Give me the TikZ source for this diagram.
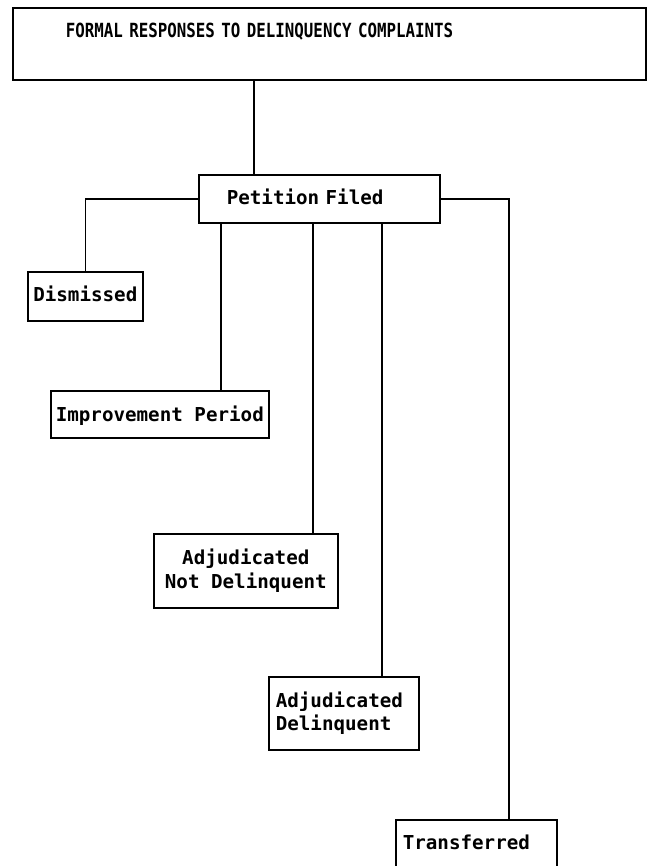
\documentclass[tikz,border=0pt]{standalone}
\usepackage{fontspec}
\newfontfamily\boxfont[WordSpace={1,0,0}]{DejaVu Sans Mono}
\newfontfamily\headfont[FakeStretch=0.81, WordSpace={1,0,0}]{DejaVu Sans Mono}

\tikzset{
  stage/.style={draw=black, line width=1.6pt, inner ysep=0pt, inner xsep=4pt,
    font=\boxfont\bfseries\fontsize{19.2}{23.5}\selectfont},
  link/.style={line width=1.5pt, black},
}

\begin{document}
\begin{tikzpicture}[x=1pt, y=-1pt]
  \useasboundingbox (0,0) rectangle (647,866);

  \node[stage, anchor=north west, text width=527pt, inner xsep=53pt,
        text height=30pt, text depth=42pt, align=left,
        font=\headfont\bfseries\fontsize{19.5}{23}\selectfont]
        (title) at (12,7) {FORMAL RESPONSES TO DELINQUENCY COMPLAINTS};
  \node[stage, anchor=north west, text width=185pt, inner xsep=28pt,
        text height=30pt, text depth=18pt, align=left]
        (petition) at (198,174) {Petition Filed};
  \node[stage, anchor=north west, minimum width=115pt,
        text height=30pt, text depth=19pt]
        (dismissed) at (27,271) {Dismissed};
  \node[stage, anchor=north west, minimum width=218pt,
        text height=31pt, text depth=16pt]
        (improve) at (50,390) {Improvement Period};
  \node[stage, anchor=north west, minimum width=184pt, minimum height=74pt,
        align=center]
        (notdelin) at (153,533) {Adjudicated\\Not Delinquent};
  \node[stage, anchor=north west, text width=136pt, inner xsep=7pt,
        minimum height=73pt, align=left]
        (delin) at (268,676) {Adjudicated\\Delinquent};
  % box runs off the bottom edge
  \node[stage, anchor=north west, text width=147pt, inner xsep=7pt,
        text height=30pt, text depth=36pt, align=left]
        (transfer) at (395,819) {Transferred};

  \coordinate (up) at ([xshift=56pt]petition.north west);
  \coordinate (d1) at ([xshift=23pt]petition.south west);
  \coordinate (d2) at ([xshift=115pt]petition.south west);
  \coordinate (d3) at ([xshift=184pt]petition.south west);
  \coordinate (d4) at ([xshift=114pt]transfer.north west);

  \draw[link] (up) -- (up |- title.south);
  \draw[link] (petition.west) -| (dismissed.north);
  \draw[link] (d1) -- (d1 |- improve.north);
  \draw[link] (d2) -- (d2 |- notdelin.north);
  \draw[link] (d3) -- (d3 |- delin.north);
  \draw[link] (petition.east) -| (d4);
\end{tikzpicture}
\end{document}
